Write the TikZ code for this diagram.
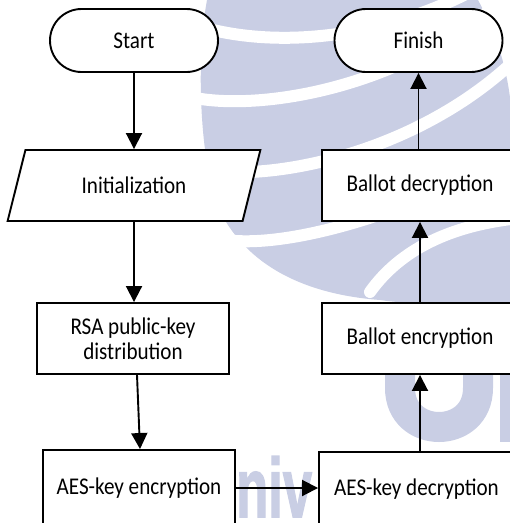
\documentclass[tikz,border=0pt]{standalone}
\usepackage{fontspec}
\setmainfont{Carlito}[FakeStretch=0.88]
\newfontfamily\markfont{Liberation Sans}[FakeBold=2]
\usetikzlibrary{arrows.meta,shapes.geometric}
\definecolor{wmark}{RGB}{201,206,228}

\begin{document}
\begin{tikzpicture}[x=1pt,y=-1pt,
  box/.style={draw, line width=1.9pt, fill=white, inner sep=0pt,
    minimum height=71pt, align=center,
    font=\fontsize{24}{25}\selectfont},
  procbox/.style={box, rectangle},
  termbox/.style={box, rectangle, rounded corners=31.5pt,
    minimum width=168pt, minimum height=63pt},
  iobox/.style={box, trapezium, trapezium left angle=63,
    trapezium right angle=117, trapezium stretches=true,
    minimum width=253pt},
  arr/.style={line width=1.9pt, -{Triangle[length=16pt,width=16pt]}},
  gap/.style={white, line width=12pt, line cap=round}]

\useasboundingbox (0,0) rectangle (510,523);
\clip (0,0) rectangle (510,523);

% faint background emblem
\fill[wmark] (207,0) -- (478,0) .. controls (500,40) and (510,80) .. (512,120)
  -- (512,312) .. controls (470,302) and (420,306) .. (380,300)
  .. controls (300,294) and (240,262) .. (215,200)
  .. controls (200,150) and (196,60) .. (207,0) -- cycle;
\draw[gap] (205,28) .. controls (280,48) and (380,38) .. (470,-8);
\draw[gap] (195,98) .. controls (260,110) and (390,90) .. (490,10);
\draw[gap] (200,170) .. controls (280,182) and (420,150) .. (515,60);
\draw[gap] (225,240) .. controls (300,250) and (440,200) .. (520,150);
\draw[gap] (370,292) .. controls (400,250) and (450,225) .. (520,218);
\draw[wmark, line width=30pt] (400,330) -- (400,388)
  .. controls (400,440) and (478,440) .. (478,388) -- (478,330);
\draw[wmark, line width=30pt] (515,330) -- (515,442);
\node[wmark, anchor=base west, inner sep=0pt,
  font=\markfont\fontsize{70}{70}\selectfont\bfseries] (wmtext) at (236,517)
  {\scalebox{0.75}[1.2]{niv}};

% flow chart
\node[termbox] (start) at (134,40.5) {Start};
\node[termbox] (finish) at (418.5,40.5) {Finish};
\node[iobox] (init) at (134,185.5) {Initialization};
\node[procbox, minimum width=192pt] (rsa) at (133,338.5)
  {RSA public-key\\distribution};
\node[procbox, minimum width=192pt, minimum height=76pt] (aesenc) at (139,488)
  {AES-key encryption};
\node[procbox, minimum width=195pt, minimum height=74pt] (aesdec) at (416.5,489)
  {AES-key decryption};
\node[procbox, minimum width=196pt] (balenc) at (420,338.5) {Ballot encryption};
\node[procbox, minimum width=196pt] (baldec) at (420,185.5) {Ballot decryption};

\draw[arr] (start) -- (init);
\draw[arr] (init.south) -- (init.south |- rsa.north);
\draw[arr] ([xshift=4pt]rsa.south) -- ([xshift=1pt]aesenc.north);
\draw[arr] (aesenc.east) -- (aesenc.east -| aesdec.west);
\draw[arr] (aesdec.north -| balenc.south) -- (balenc.south);
\draw[arr] (balenc) -- (baldec);
\draw[arr] (baldec.north -| finish.south) -- (finish.south);
\end{tikzpicture}
\end{document}
